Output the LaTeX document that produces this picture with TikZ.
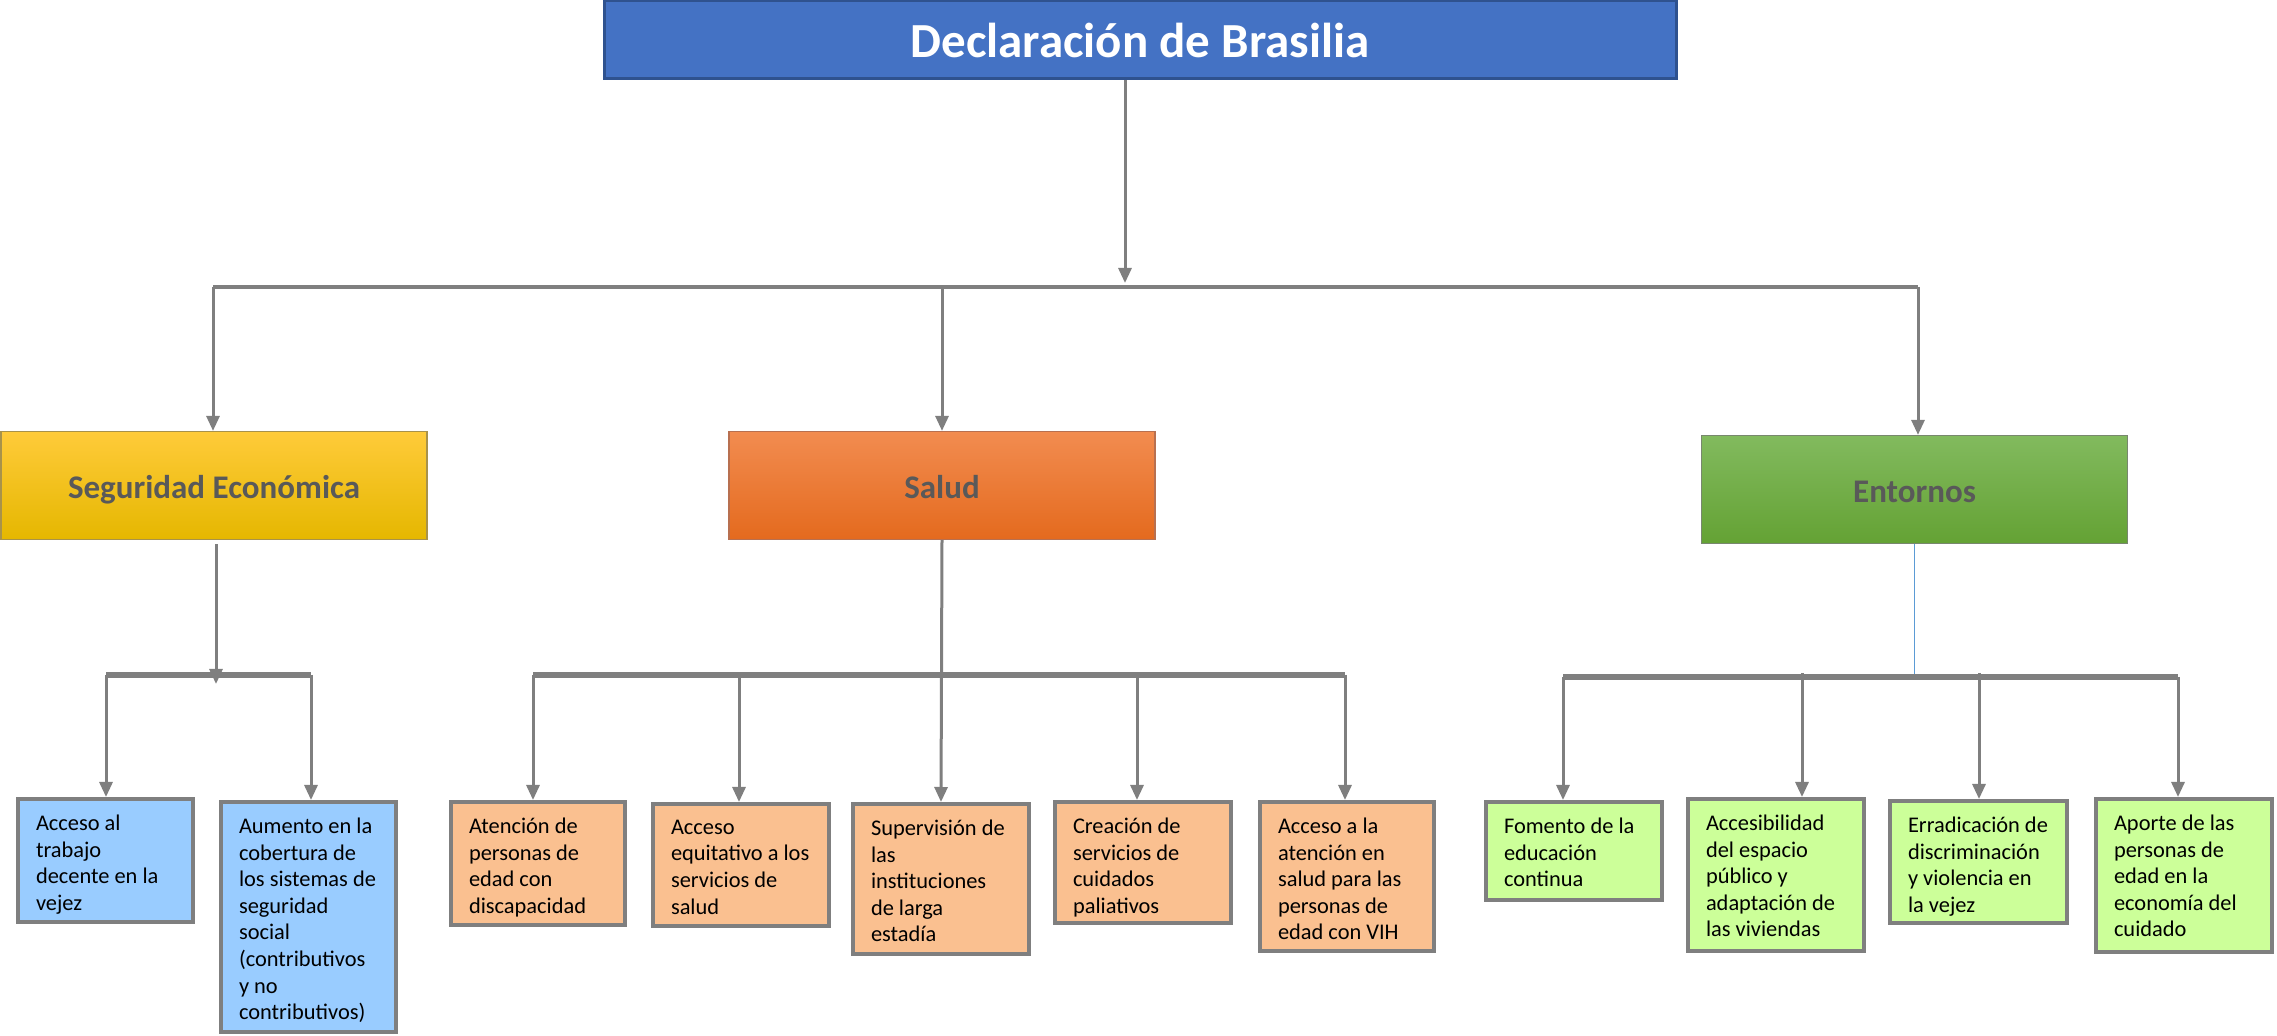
\documentclass[tikz,border=0pt]{standalone}
\usepackage{fontspec}
\setmainfont{Carlito}
\usetikzlibrary{arrows.meta}
\definecolor{linegray}{HTML}{7F7F7F}
\definecolor{titlefill}{HTML}{4472C4}
\definecolor{titledraw}{HTML}{2F528F}
\definecolor{cattext}{HTML}{595959}
\definecolor{leafblue}{HTML}{99CCFF}
\definecolor{leaforange}{HTML}{FAC090}
\definecolor{leafgreen}{HTML}{CCFF99}
\definecolor{thinblue}{HTML}{5B9BD5}
\definecolor{setop}{HTML}{FFCB3A}
\definecolor{sebot}{HTML}{E5B700}
\definecolor{sedraw}{HTML}{A8924A}
\definecolor{satop}{HTML}{F28C50}
\definecolor{sabot}{HTML}{E46A1E}
\definecolor{sadraw}{HTML}{B87050}
\definecolor{entop}{HTML}{82BA5E}
\definecolor{enbot}{HTML}{64A234}
\definecolor{endraw}{HTML}{78876E}
\newcommand\lf[3]{\parbox[c][\dimexpr#2pt-14pt\relax][t]{\dimexpr#1pt-20pt\relax}{\vspace*{2pt}\raggedright #3}}
\begin{document}
\begin{tikzpicture}[x=0.5pt,y=-0.5pt,
  titlebox/.style={draw=titledraw, line width=1.5pt, fill=titlefill, text=white,
    font=\fontsize{24.5}{29}\selectfont\bfseries, minimum width=536pt, minimum height=39pt, inner sep=0pt},
  catbox/.style={line width=0.6pt, text=cattext, font=\fontsize{16.5}{20}\selectfont\bfseries,
    minimum width=213pt, minimum height=54pt, inner sep=0pt, text height=17pt, text depth=3.5pt},
  leafbox/.style={draw=linegray, line width=2pt, inner xsep=9pt, inner ysep=6pt,
    font=\fontsize{11.2}{13.3}\selectfont, text=black},
  conn/.style={draw=linegray, line width=1.5pt, -{Triangle[width=6.5pt,length=7.5pt]}},
  barline/.style={draw=linegray, line width=2.6pt},
]
\useasboundingbox (0,0) rectangle (2277,1036);

% title
\node[titlebox] (title) at (1140,40) {Declaración de Brasilia};

% category boxes
\node[catbox, draw=sedraw, top color=setop, bottom color=sebot] (se) at (214,485.5) {Seguridad Económica};
\node[catbox, draw=sadraw, top color=satop, bottom color=sabot] (salud) at (942,485.5) {Salud};
\node[catbox, draw=endraw, top color=entop, bottom color=enbot] (ent) at (1914.5,489.5) {Entornos};

% leaves: Seguridad
\node[leafbox, fill=leafblue] (a1) at (105.5,860.5) {\lf{89.5}{63.5}{Acceso al\\trabajo\\decente en la\\vejez}};
\node[leafbox, fill=leafblue] (a2) at (308.5,917) {\lf{89.5}{117}{Aumento en la\\cobertura de\\los sistemas de\\seguridad\\social\\(contributivos\\y no\\contributivos)}};

% leaves: Salud
\node[leafbox, fill=leaforange] (b1) at (538,863.5) {\lf{89}{63.5}{Atención de\\personas de\\edad con\\discapacidad}};
\node[leafbox, fill=leaforange] (b2) at (741,865) {\lf{90}{63}{Acceso\\equitativo a los\\servicios de\\salud}};
\node[leafbox, fill=leaforange] (b3) at (941,879) {\lf{90}{77}{Supervisión de\\las\\instituciones\\de larga\\estadía}};
\node[leafbox, fill=leaforange] (b4) at (1143,862.5) {\lf{90}{62.5}{Creación de\\servicios de\\cuidados\\paliativos}};
\node[leafbox, fill=leaforange] (b5) at (1347,876.5) {\lf{89}{76.5}{Acceso a la\\atención en\\salud para las\\personas de\\edad con VIH}};

% leaves: Entornos
\node[leafbox, fill=leafgreen] (c1) at (1574,851) {\lf{90}{51}{Fomento de la\\educación\\continua}};
\node[leafbox, fill=leafgreen] (c2) at (1776,875) {\lf{90}{78}{Accesibilidad\\del espacio\\público y\\adaptación de\\las viviendas}};
\node[leafbox, fill=leafgreen] (c3) at (1978.5,862) {\lf{90.5}{63}{Erradicación de\\discriminación\\y violencia en\\la vejez}};
\node[leafbox, fill=leafgreen] (c4) at (2184,875.5) {\lf{90}{78.5}{Aporte de las\\personas de\\edad en la\\economía del\\cuidado}};

% main connectors
\coordinate (m1) at (1125,283);
\coordinate (bl) at (213,287);
\coordinate (br) at (1918,287);
\draw[conn] (title.south -| m1) -- (m1);
\draw[barline, line width=2pt] (bl) -- (br);
\draw[conn] (bl) -- (se.north -| bl);
\draw[conn] (salud.north |- bl) -- (salud.north);
\draw[conn] (br) -- (ent.north -| br);

% Seguridad connectors
\coordinate (sel) at (106,675);
\coordinate (ser) at (311,675);
\coordinate (sev) at (216,684);
\draw[barline] (sel) -- (ser);
\draw[conn, shorten <=2pt] (se.south -| sev) -- (sev);
\draw[conn] (sel) -- (a1.north -| sel);
\draw[conn] (ser) -- (a2.north -| ser);

% Salud connectors
\coordinate (sal) at (533,675);
\coordinate (sar) at (1345,675);
\coordinate (sb2) at (739,675);
\coordinate (sb4) at (1137,675);
\draw[barline] (sal) -- (sar);
\draw[conn] (salud.south) -- (b3.north);
\draw[conn] (sal) -- (b1.north -| sal);
\draw[conn] (sb2) -- (b2.north -| sb2);
\draw[conn] (sb4) -- (b4.north -| sb4);
\draw[conn] (sar) -- (b5.north -| sar);

% Entornos connectors
\coordinate (el) at (1563,677);
\coordinate (er) at (2178,677);
\coordinate (ec2) at (1802,673);
\coordinate (ec3) at (1979,673);
\coordinate (ev) at (1914.5,677);
\draw[thinblue, line width=0.6pt] (ent.south) -- (ev);
\draw[barline] (el) -- (er);
\draw[conn] (el) -- (c1.north -| el);
\draw[conn] (ec2) -- (c2.north -| ec2);
\draw[conn] (ec3) -- (c3.north -| ec3);
\draw[conn] (er) -- (c4.north -| er);
\end{tikzpicture}
\end{document}
